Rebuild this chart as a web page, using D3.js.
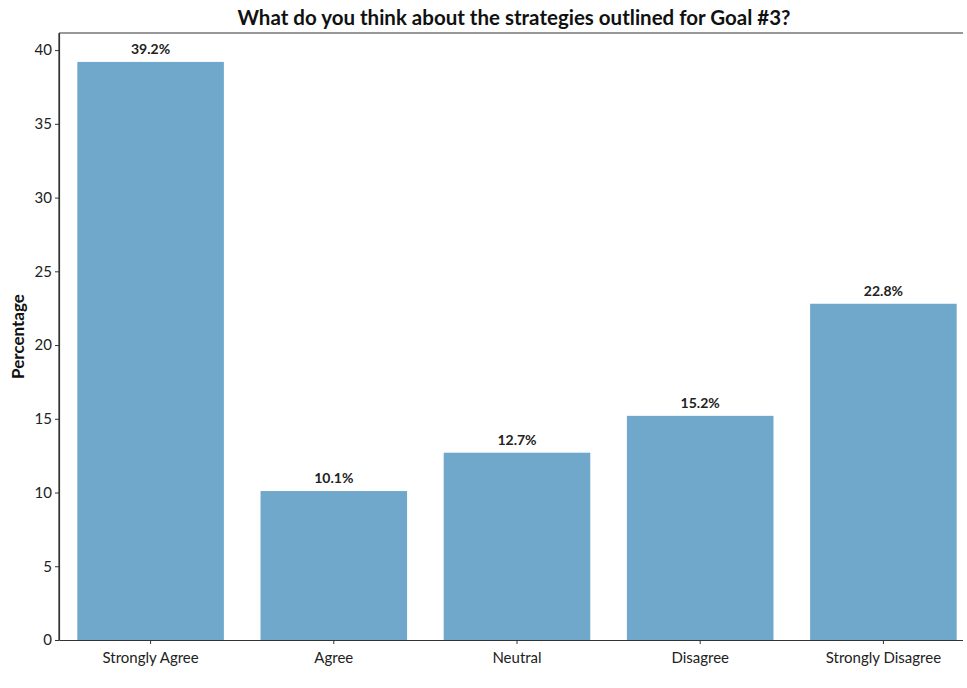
<!DOCTYPE html>
<html>
<head>
<meta charset="utf-8">
<script src="https://cdn.jsdelivr.net/npm/d3@7"></script>
<style>
  html, body { margin: 0; padding: 0; background: #fff; overflow: hidden; }
  svg { display: block; font-family: Lato, "Open Sans", sans-serif; }
</style>
</head>
<body>
<svg id="chart" width="967" height="688"></svg>
<script>
const categories = ["Strongly Agree", "Agree", "Neutral", "Disagree", "Strongly Disagree"];
const values = [39.2, 10.1, 12.7, 15.2, 22.8];
const yTicks = [0, 5, 10, 15, 20, 25, 30, 35, 40];
const title = "What do you think about the strategies outlined for Goal #3?";
const yLabel = "Percentage";

const root = d3.select("#chart");
const W = 967, H = 688;
root.append("defs").append("clipPath").attr("id", "pageclip")
  .append("rect").attr("x", 0).attr("y", 0).attr("width", W - 4).attr("height", H);
const svg = root.append("g").attr("clip-path", "url(#pageclip)");

const margin = { left: 59, top: 33, right: -8, bottom: 48 };
const x0 = margin.left, x1 = W - margin.right;
const y0 = H - margin.bottom, y1 = margin.top;

const x = d3.scaleBand().domain(categories).range([x0, x1]).paddingInner(0.2).paddingOuter(0.1);
const y = d3.scaleLinear().domain([0, d3.max(values) * 1.05]).range([y0, y1]);

// bars
svg.append("g").selectAll("rect").data(categories).join("rect")
  .attr("x", d => x(d))
  .attr("y", (d, i) => y(values[i]))
  .attr("width", x.bandwidth())
  .attr("height", (d, i) => y(0) - y(values[i]))
  .attr("fill", "rgb(112,168,204)");

// value labels
svg.append("g").selectAll("text").data(categories).join("text")
  .attr("x", d => x(d) + x.bandwidth() / 2)
  .attr("y", (d, i) => y(values[i]) - 8)
  .attr("text-anchor", "middle")
  .attr("font-size", 14)
  .attr("font-weight", "bold")
  .attr("fill", "#222")
  .text((d, i) => values[i].toFixed(1) + "%");

// axes
const xAxis = svg.append("g").attr("transform", `translate(0,${y0})`)
  .call(d3.axisBottom(x).tickSize(4).tickSizeOuter(0));
const yAxis = svg.append("g").attr("transform", `translate(${x0},0)`)
  .call(d3.axisLeft(y).tickValues(yTicks).tickSize(4).tickSizeOuter(0));
[xAxis, yAxis].forEach(a => {
  a.select(".domain").attr("stroke", "#333").attr("stroke-width", 1.2);
  a.selectAll(".tick line").attr("stroke", "#333");
  a.selectAll("text").attr("font-size", 15).attr("fill", "#222")
    .attr("font-family", "Lato, 'Open Sans', sans-serif");
});
xAxis.selectAll("text").attr("dy", "1.05em");

// top & left spines
svg.append("line").attr("x1", x0).attr("x2", x1).attr("y1", y1).attr("y2", y1)
  .attr("stroke", "#333").attr("stroke-width", 1.2);
svg.append("line").attr("x1", x0).attr("x2", x0).attr("y1", y1).attr("y2", y0)
  .attr("stroke", "#333").attr("stroke-width", 1.2);

// title
svg.append("text").attr("x", 514).attr("y", 25).attr("text-anchor", "middle")
  .attr("font-size", 20.5).attr("font-weight", "bold").attr("fill", "#111").text(title);

// y label
svg.append("text").attr("transform", `translate(24,${(y0 + y1) / 2}) rotate(-90)`)
  .attr("text-anchor", "middle").attr("font-size", 17).attr("font-weight", "bold")
  .attr("fill", "#111").text(yLabel);
</script>
</body>
</html>
